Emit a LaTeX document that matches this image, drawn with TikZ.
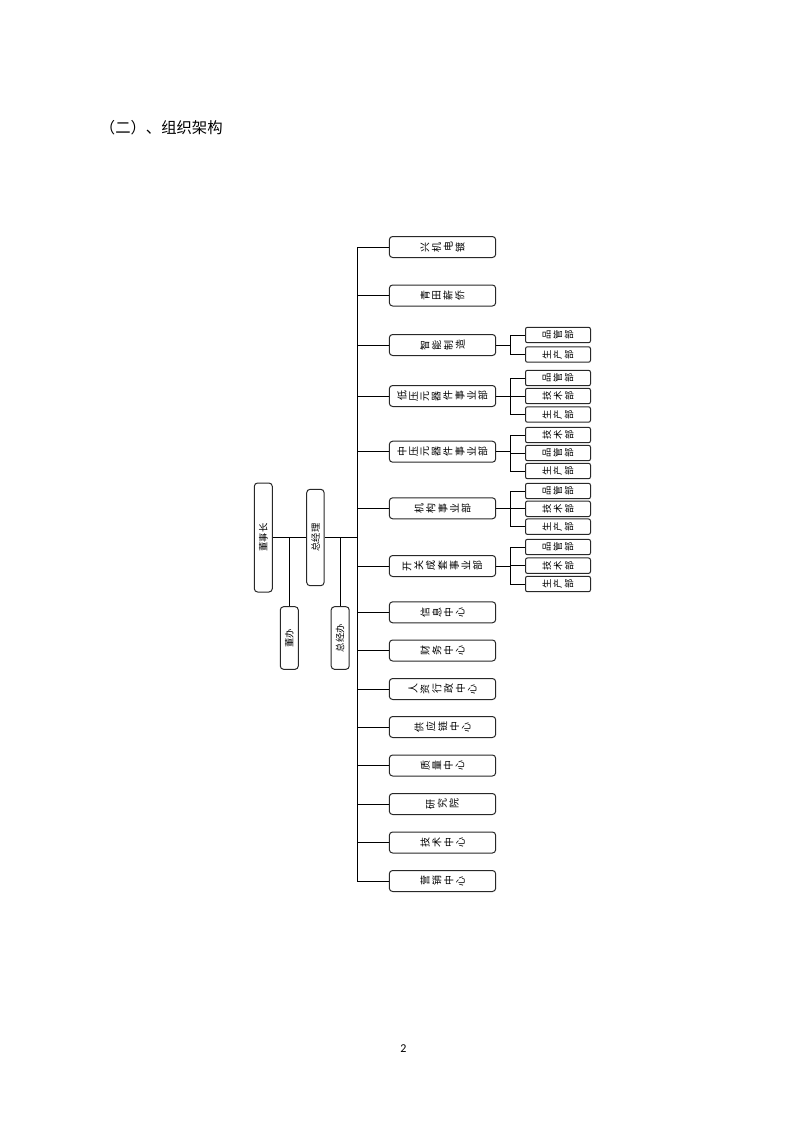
\documentclass[tikz,border=0pt]{standalone}
\usepackage{fontspec}
\usepackage{graphicx}
\newfontfamily\cjk{Noto Sans CJK SC}
\newfontfamily\numfont{Carlito}

% sideways characters, read left to right
\newlength\rcgap
\setlength\rcgap{2pt}
\makeatletter
\def\rc#1{\kern-\rcgap\rc@step#1\relax}
\def\rc@step#1{\ifx#1\relax\else\kern\rcgap\rotatebox[origin=c]{90}{#1}\expandafter\rc@step\fi}
\makeatother

\tikzset{every picture/.style={line width=0.75pt}}
\tikzset{
  mainbox/.style={draw={rgb, 255:red, 40; green, 40; blue, 40 }, rounded corners=2.5pt, inner sep=0pt,
    minimum width=79.8pt, minimum height=15.75pt, font=\cjk\fontsize{7.5}{9}\selectfont},
  subbox/.style={draw={rgb, 255:red, 40; green, 40; blue, 40 }, rounded corners=1.5pt, inner sep=0pt,
    minimum width=48.75pt, minimum height=11.6pt, font=\cjk\fontsize{7}{8}\selectfont},
  leftbox/.style={draw={rgb, 255:red, 40; green, 40; blue, 40 }, rounded corners=2.5pt, inner sep=0pt,
    font=\cjk\fontsize{7}{8}\selectfont},
  bold line/.style={line width=1.3pt}
}

\begin{document}
\begin{tikzpicture}[x=0.75pt,y=0.75pt,yscale=-1,xscale=1]
	\path[use as bounding box] (0,0) rectangle (794,1122);

	% Text Node
	\node[anchor=west, font=\cjk\fontsize{11.5}{14}\selectfont] (title) at (95,127.5) {（二）、组织架构};
	% Text Node
	\node[font=\numfont\fontsize{9}{10}\selectfont] (pageno) at (403.5,1048.5) {2};

	%Left boxes
	\node[leftbox, minimum width=13.5pt, minimum height=81.75pt] (chair) at (263.3,537.5) {\rotatebox{90}{董事长}};
	\node[leftbox, minimum width=13pt, minimum height=72.3pt] (gm) at (315.4,537.5) {\rotatebox{90}{总经理}};
	\node[leftbox, minimum width=13.5pt, minimum height=47pt] (dongban) at (289.3,638) {\rotatebox{90}{董办}};
	\node[leftbox, minimum width=13.5pt, minimum height=47pt] (gmo) at (340.2,638) {\rotatebox{90}{总经办}};

	\coordinate (bus) at (357,537.5);
	\coordinate (fork) at (510,537.5);

	%Main boxes
	\foreach \i/\y/\txt in {1/247/兴机电镀, 2/295.5/青田薪侨, 3/345/智能制造, 4/396/低压元器件事业部,
		5/451.7/中压元器件事业部, 6/508.3/机构事业部, 7/566/开关成套事业部, 8/612.3/信息中心,
		9/650.5/财务中心, 10/689/人资行政中心, 11/727/供应链中心, 12/765.5/质量中心,
		13/804/研究院, 14/842.5/技术中心, 15/881/营销中心}
	\node[mainbox] (m\i) at (442.5,\y) {\expandafter\rc\expandafter{\txt}};

	%Sub boxes
	\foreach \p/\j/\y/\txt in {3/1/335/品管部, 3/2/354.5/生产部,
		4/1/378/品管部, 4/2/396/技术部, 4/3/414.5/生产部,
		5/1/435/技术部, 5/2/453/品管部, 5/3/471/生产部,
		6/1/491/品管部, 6/2/508.8/技术部, 6/3/526.7/生产部,
		7/1/547/品管部, 7/2/565.7/技术部, 7/3/584/生产部}
	\node[subbox] (m\p s\j) at (558,\y) {\expandafter\rc\expandafter{\txt}};

	%Straight Lines
	\draw (chair.east) -- (gm.west);
	\draw[bold line] (gm.east) -- (bus);
	\draw (dongban.north) -- (dongban.north |- chair.east);
	\draw (gmo.north) -- (gmo.north |- gm.east);
	\draw (bus |- m1.west) -- (bus |- m15.west);
	\foreach \i in {1,...,15}
	\draw (bus |- m\i.west) -- (m\i.west);
	\foreach \p/\n in {3/2, 4/3, 5/3, 6/3, 7/3}{
		\draw (m\p.east) -- (fork |- m\p.east);
		\draw (fork |- m\p s1.west) -- (fork |- m\p s\n.west);
		\foreach \j in {1,...,\n}
		\draw (fork |- m\p s\j.west) -- (m\p s\j.west);
	}

\end{tikzpicture}
\end{document}
